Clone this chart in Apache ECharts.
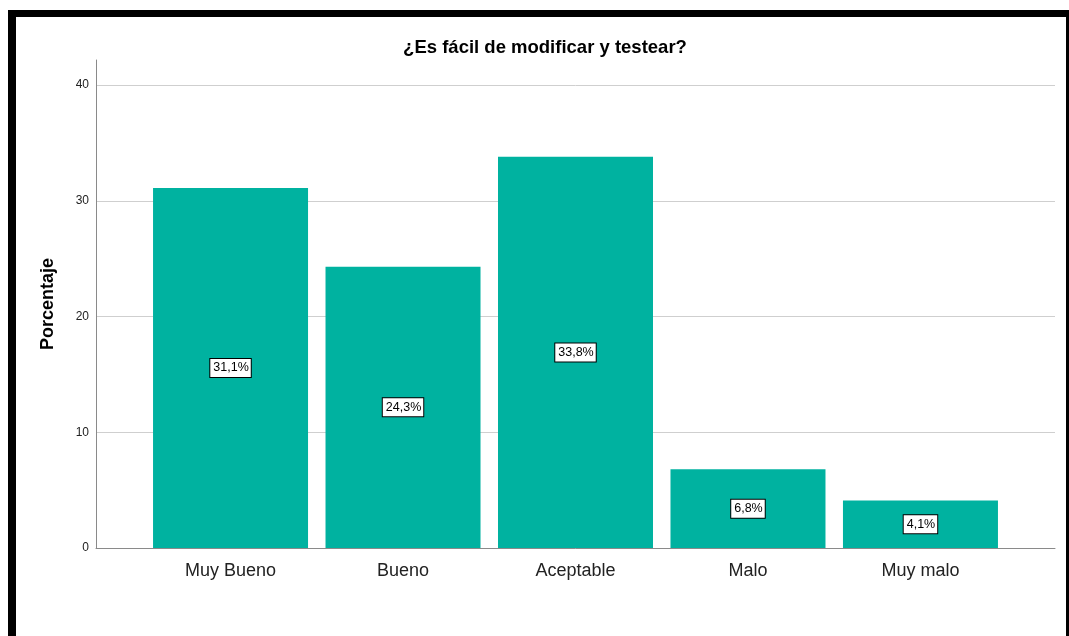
<!DOCTYPE html>
<html>
<head>
<meta charset="utf-8">
<script src="https://cdn.jsdelivr.net/npm/echarts@6/dist/echarts.min.js"></script>
<style>
  html, body { margin: 0; padding: 0; background: #fff; }
  #wrap { position: relative; width: 1069px; height: 636px; overflow: hidden; }
  #chart { position: absolute; left: 0; top: 0; width: 1069px; height: 636px; }
  #frame {
    position: absolute; left: 8px; top: 10px; right: 0; bottom: -2px;
    border-top: 7px solid #000; border-left: 8px solid #000; border-right: 3px solid #000;
    pointer-events: none;
  }
</style>
</head>
<body>
<div id="wrap">
  <div id="chart"></div>
  <div id="frame"></div>
</div>
<script>
// Survey answers and their share of respondents (%)
const categories = ['Muy Bueno', 'Bueno', 'Aceptable', 'Malo', 'Muy malo'];
const percentages = [31.1, 24.3, 33.8, 6.8, 4.1];
const yTicks = [0, 10, 20, 30, 40];

const FONT = '"Liberation Sans", Arial, sans-serif';
const BAR_COLOR = '#00b2a0';

const chart = echarts.init(document.getElementById('chart'), null, { renderer: 'canvas' });

// Bars are placed on a numeric x scale so the outer padding around the
// first and last category can be reproduced; labels show the category names.
const barData = percentages.map((v, i) => [i, v]);

chart.setOption({
  animation: false,
  backgroundColor: '#fff',
  title: {
    text: '¿Es fácil de modificar y testear?',
    left: 540,
    textAlign: 'center',
    top: 33,
    textStyle: { fontFamily: FONT, fontSize: 18.5, fontWeight: 'bold', color: '#000' }
  },
  grid: { left: 96, right: 14, top: 60, bottom: 88, containLabel: false },
  xAxis: {
    type: 'value',
    min: -0.78,
    max: 4.78,
    splitLine: { show: false },
    axisTick: { show: false },
    axisLine: { show: true, onZero: false, lineStyle: { color: '#8a8a8a', width: 1 } },
    axisLabel: {
      customValues: categories.map((c, i) => i),
      formatter: v => categories[Math.round(v)] || '',
      fontFamily: FONT, fontSize: 18, color: '#222', margin: 14
    }
  },
  yAxis: {
    type: 'value',
    min: 0,
    max: 42.16,
    interval: 10,
    name: 'Porcentaje',
    nameLocation: 'middle',
    nameGap: 39,
    nameTextStyle: { fontFamily: FONT, fontSize: 18, fontWeight: 'bold', color: '#000' },
    axisLine: { show: true, onZero: false, lineStyle: { color: '#8a8a8a', width: 1 } },
    axisTick: { show: false },
    axisLabel: {
      showMaxLabel: false,
      formatter: v => (yTicks.indexOf(v) >= 0 ? String(v) : ''),
      fontFamily: FONT, fontSize: 12, color: '#222', margin: 7
    },
    splitLine: {
      show: true,
      lineStyle: { color: ['#cfcfcf', '#cfcfcf', '#cfcfcf', '#cfcfcf', '#cfcfcf', 'rgba(0,0,0,0)'], width: 1 }
    }
  },
  series: [{
    type: 'bar',
    data: barData,
    barWidth: 155,
    itemStyle: { color: BAR_COLOR },
    label: {
      show: true,
      position: 'inside',
      formatter: p => p.value[1].toFixed(1).replace('.', ',') + '%',
      fontFamily: FONT, fontSize: 12.5, color: '#000',
      backgroundColor: '#fff', borderColor: '#000', borderWidth: 1,
      padding: [3, 2, 2, 3]
    }
  }]
});
</script>
</body>
</html>
